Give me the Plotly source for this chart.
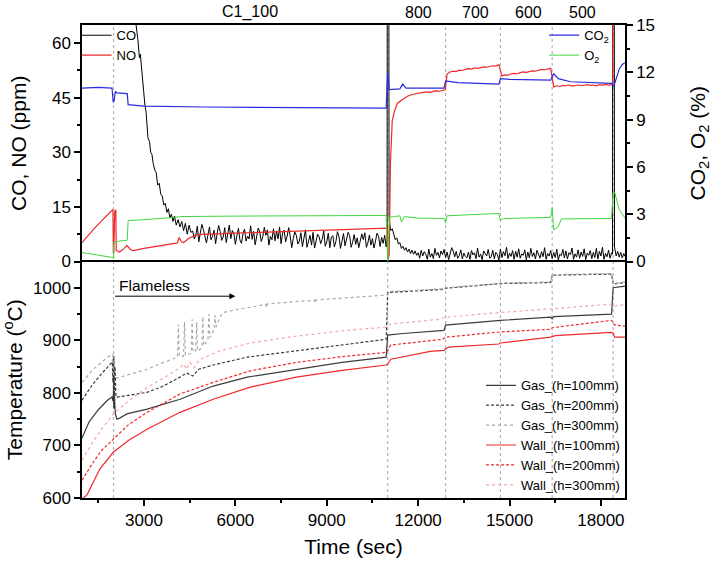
import plotly.graph_objects as go

# ---------------- data ----------------
# condition change times (s) and top labels
change_t = [2000, 11000, 12900, 14700, 16400, 18400]
cond_labels = ["C1_100", "800", "700", "600", "500"]
cond_t = [6490, 12010, 13890, 15630, 17410]
x_ticks = [3000, 6000, 9000, 12000, 15000, 18000]

# ---- CO (ppm) ----
co_head_t = [965, 2000, 2600, 2700, 2740, 2800, 2850, 2880, 2930, 2960, 3000, 3030, 3070, 3100,
             3130, 3180, 3220, 3260, 3300, 3360, 3400, 3450, 3500, 3550, 3600, 3650, 3700, 3750,
             3800, 3850, 3900, 3950, 4000, 4060, 4120, 4180, 4240, 4300, 4360, 4420, 4480, 4540]
co_head_v = [150, 150, 110, 75, 65, 61, 56, 57, 52, 50, 46, 43, 41, 37,
             34, 33, 30, 29.5, 27, 25, 24.5, 21, 21.5, 18.5, 18, 15.5, 16, 13.5,
             14.5, 12, 13, 11, 12.5, 10, 11.5, 9.5, 11, 8.5, 10.5, 7.5, 10, 8]
co_noise1_start, co_noise1_step = 4600, 50
co_noise1_v = [8.4, 6.2, 7.1, 9.7, 5.4, 7.9, 10.2, 8.8, 6.5, 5.1, 7.3, 9.5, 6.0, 6.9, 8.6, 4.9,
               7.6, 9.9, 8.3, 5.8, 6.7, 9.3, 5.2, 7.4, 10.0, 6.3, 8.5, 7.7, 4.7, 7.1, 9.1, 5.9,
               5.0, 7.7, 8.9, 5.6, 7.0, 6.2, 9.8, 6.1, 8.3, 4.6, 7.5, 9.2, 8.1, 5.5, 6.8, 9.4,
               7.2, 8.7, 4.5, 6.9, 6.0, 9.0, 5.7, 8.4, 6.2, 9.5, 4.9, 7.8, 8.6, 5.4, 7.0, 9.3,
               7.0, 3.8, 6.3, 8.1, 7.2, 4.8, 5.6, 7.9, 4.1, 6.6, 8.7, 3.9, 5.9, 7.2, 4.5, 8.0,
               3.7, 5.7, 7.5, 6.8, 4.9, 6.1, 8.4, 4.2, 5.4, 7.8, 3.8, 6.7, 7.1, 4.0, 5.5, 8.2,
               6.9, 3.6, 5.8, 7.7, 4.3, 6.2, 8.0, 7.1, 3.9, 5.3, 7.4, 4.7, 6.5, 3.8, 5.9, 7.6,
               6.0, 7.9, 3.9, 5.1, 7.3, 4.5, 6.3, 3.7, 5.6, 7.8, 6.9, 4.1, 6.6, 5.0, 7.2, 4.0]
co_mid_t = [10980, 10995, 11025, 11045, 11080, 11100, 11150, 11200, 11250, 11300, 11350, 11400,
            11450, 11500, 11550, 11600, 11650, 11700, 11750, 11800, 11850, 11900, 11950]
co_mid_v = [6.1, 200, 200, 12, 9.5, 8.5, 9, 7.2, 6, 6.5, 4.8, 5.2,
            3.6, 4.2, 3.1, 3.8, 2.6, 3.4, 2.2, 3.1, 2.0, 2.9, 1.7]
co_noise2_start, co_noise2_step = 12000, 50
co_noise2_v = [2.4, 0.9, 3.1, 1.5, 2.7, 2.0, 0.6, 3.4, 1.2, 2.2, 0.8, 3.6, 1.7, 2.5, 1.0, 2.9,
               1.9, 3.3, 1.1, 2.6, 0.5, 2.1, 3.8, 2.9, 1.3, 2.8, 0.9, 1.6, 3.2, 0.7, 2.3, 1.4,
               1.0, 2.6, 0.6, 3.0, 1.8, 2.4, 0.8, 3.7, 1.2, 2.0, 0.5, 2.9, 2.2, 1.5, 3.3, 0.9,
               1.3, 3.1, 0.7, 2.5, 1.9, 0.4, 3.4, 1.1, 2.7, 1.6, 3.9, 0.8, 2.3, 1.4, 3.0, 0.6,
               2.8, 1.2, 3.5, 0.9, 2.1, 1.7, 3.2, 0.5, 2.6, 1.0, 3.6, 1.4, 2.4, 0.7, 3.1, 1.8,
               0.9, 2.7, 1.3, 3.8, 0.6, 2.2, 1.5, 3.0, 0.8, 2.5, 1.1, 3.4, 0.4, 2.0, 1.6, 3.3,
               1.0, 2.9, 0.7, 2.4, 1.9, 3.7, 0.6, 2.1, 1.2, 3.2, 0.9, 2.6, 1.4, 3.5, 0.5, 2.3,
               1.7, 3.0, 0.8, 2.5, 1.1, 3.6, 0.7, 2.8, 1.5, 3.9, 0.6, 2.2, 1.3, 3.1, 0.9, 2.4]
co_tail_t = [18380, 18395, 18425, 18445, 18470, 18500, 18550, 18600, 18650, 18700, 18750, 18790]
co_tail_v = [2.0, 200, 200, 4, 3, 1.5, 2.8, 1.2, 2.5, 1.0, 2.2, 1.4]

# ---- NO (ppm) ----
no_head_t = [965, 1200, 1400, 1600, 1800, 1980, 1995, 2010, 2040, 2075, 2090, 2200, 2350, 2440,
             2550, 2640, 3000, 3500, 4000, 4100, 4150, 4230, 4300, 4500, 4740, 5000, 5500, 6000,
             6800, 8000, 9500, 10860, 10980, 11010, 11050, 11090, 11150, 11230, 11320, 11500,
             11650, 11800, 11950, 12100, 12250, 12400, 12550, 12700, 12850, 12890]
no_head_v = [5.2, 7.6, 9.4, 11.1, 12.8, 14.3, 2.2, 2.5, 13.8, 14.2, 3.0, 2.6, 3.6, 4.4,
             3.3, 3.0, 3.6, 4.2, 4.8, 5.1, 6.6, 5.4, 5.2, 6.5, 7.4, 7.5, 7.7, 7.8,
             8.0, 8.3, 8.7, 9.1, 9.2, 0.5, 2.0, 27, 38.8, 41.5, 43.5, 44.6,
             45.4, 45.9, 46.2, 46.3, 46.6, 46.5, 46.9, 46.8, 47.1, 47.2]
no_seg_step = 100
no_seg700_start = 12950
no_seg700_v = [51.5, 52.1, 52.3, 52.2, 52.6, 52.5, 52.8, 53.0, 52.9, 53.2, 53.1, 53.3, 53.5,
               53.4, 53.7, 53.8, 53.7, 54.1]
no_seg600_start = 14750
no_seg600_v = [51.0, 51.3, 51.2, 51.6, 51.7, 51.6, 51.9, 52.1, 52.0, 52.3, 52.4, 52.3, 52.6,
               52.8, 52.7, 53.0, 53.1]
no_seg500_start = 16450
no_seg500_v = [48.0, 48.3, 48.1, 48.4, 48.3, 48.5, 48.2, 48.4, 48.5, 48.3, 48.4, 48.6, 48.4,
               48.5, 48.3, 48.6, 48.5, 48.7, 48.5, 48.6]
no_tail_t = [18390, 18400, 18790]
no_tail_v = [48.6, 100, 100]

# ---- CO2 (%) ----
co2_t = [965, 1500, 1950, 1990, 2020, 2060, 2100, 2450, 2480, 3000, 5000, 8000, 10950, 11000,
         11050, 11400, 11490, 11600, 12850, 12900, 13300, 14650, 14700, 15000, 16350, 16450,
         16600, 17000, 18350, 18420, 18500, 18600, 18700, 18790]
co2_v = [11.0, 11.05, 11.0, 10.1, 10.2, 10.8, 10.7, 10.65, 9.95, 9.85, 9.8, 9.75, 9.73, 12.0,
         10.9, 10.95, 11.25, 11.0, 11.0, 11.45, 11.35, 11.25, 11.6, 11.55, 11.5, 11.9,
         11.6, 11.4, 11.3, 11.1, 11.6, 12.2, 12.5, 12.6]

# ---- O2 (%) ----
o2_t = [965, 1500, 1980, 2000, 2010, 2200, 2450, 2480, 3000, 4000, 4200, 6000, 9000, 10950,
        11000, 11050, 11400, 11450, 11550, 12000, 12850, 12900, 12950, 14650, 14700, 14800,
        16350, 16400, 16450, 16600, 16700, 18350, 18400, 18450, 18600, 18790]
o2_v = [0.57, 0.42, 0.25, 0.2, 1.2, 1.3, 1.35, 2.6, 2.65, 2.8, 2.85, 2.88, 2.92, 2.92,
        0.0, 2.8, 2.9, 2.5, 2.85, 2.75, 2.73, 2.45, 2.9, 3.05, 2.6, 2.72,
        2.8, 3.4, 2.0, 2.2, 2.7, 2.73, 4.4, 4.4, 3.3, 2.75]

# ---- Temperatures (deg C) ----
gas100_t = [965, 1200, 1500, 1800, 1950, 1980, 2000, 2010, 2030, 2060, 2110, 2200, 2440, 3100,
            4185, 5270, 6390, 8000, 9500, 10950, 11000, 11500, 12850, 12900, 14650, 14700,
            16350, 16400, 16450, 18350, 18400, 18790]
gas100_v = [714, 745, 768, 786, 792, 785, 800, 770, 795, 760, 750, 752, 760, 769,
            788, 813, 830, 845, 858, 868, 910, 913, 919, 929, 938, 938,
            944, 941, 945, 950, 1000, 1003]

gas200_t = [965, 1300, 1600, 1900, 1960, 1980, 1990, 2000, 2010, 2030, 2050, 2080, 2110, 3100,
            3600, 4185, 4400, 4600, 4800, 5270, 6390, 8000, 9500, 10950, 11000, 12850, 12900,
            14650, 14700, 16350, 16400, 18350, 18400, 18790]
gas200_v = [786, 815, 836, 856, 859, 820, 865, 780, 870, 790, 850, 792, 792, 801,
            812, 830, 838, 832, 845, 853, 868, 880, 891, 902, 991, 997, 999,
            1007, 1008, 1010, 1024, 1026, 1007, 1010]

gas300_t = [965, 1300, 1600, 1900, 1980, 2000, 2100, 2500, 3100, 3600, 4000, 4100, 4130, 4160,
            4300, 4330, 4360, 4550, 4580, 4610, 4700, 4730, 4760, 4900, 4930, 4960, 5100, 5130,
            5160, 5300, 5330, 5360, 5500, 5600, 6000, 6800, 7000, 7020, 7040, 8000, 8600, 8620,
            8640, 10950, 11000, 11100, 12850, 12900, 14650, 14700, 16350, 16400, 18350, 18400,
            18790]
gas300_v = [820, 843, 858, 872, 873, 835, 828, 835, 845, 857, 866, 868, 930, 870,
            870, 935, 872, 875, 940, 878, 880, 935, 880, 885, 945, 890, 900, 950,
            905, 920, 948, 925, 945, 953, 958, 967, 968, 962, 969, 974, 976, 971,
            977, 986, 989, 993, 998, 1000, 1008, 1009, 1011, 1025, 1027, 1008,
            1011]

wall100_t = [965, 1130, 1550, 1990, 2500, 3100, 4185, 5270, 6490, 8000, 9500, 10950, 11000,
             11100, 12400, 12850, 12900, 13000, 14650, 14700, 16350, 16400, 16500, 18350,
             18400, 18450, 18790]
wall100_v = [598, 606, 655, 687, 710, 731, 763, 788, 811, 830, 843, 853, 855,
             864, 879, 881, 884, 887, 893, 895, 906, 907, 909, 915,
             914, 906, 906]

wall200_t = [965, 1300, 1600, 1990, 2500, 3100, 4185, 5270, 6490, 8000, 9500, 10950, 11000,
             11100, 12800, 12900, 14650, 14700, 16350, 16400, 18350, 18450, 18790]
wall200_v = [634, 665, 690, 712, 740, 763, 798, 820, 842, 858, 869, 877, 880,
             891, 902, 906, 915, 916, 921, 924, 938, 929, 927]

wall300_t = [965, 1300, 1600, 2000, 2200, 2500, 3100, 3700, 4185, 4300, 4400, 4500, 4650,
             4800, 5000, 5500, 6490, 8000, 9500, 10950, 11100, 12700, 12900, 14700, 16400,
             18350, 18450, 18790]
wall300_v = [672, 705, 730, 761, 770, 785, 810, 830, 848, 855, 845, 858, 848,
             862, 868, 880, 895, 908, 918, 925, 931, 940, 944, 953, 960,
             969, 965, 968]

# ---------------- assemble series ----------------
def grid(start, step, vals):
    return [start + i * step for i in range(len(vals))]

co_t = (co_head_t + grid(co_noise1_start, co_noise1_step, co_noise1_v) + co_mid_t
        + grid(co_noise2_start, co_noise2_step, co_noise2_v) + co_tail_t)
co_v = co_head_v + co_noise1_v + co_mid_v + co_noise2_v + co_tail_v
no_t = (no_head_t + grid(no_seg700_start, no_seg_step, no_seg700_v)
        + grid(no_seg600_start, no_seg_step, no_seg600_v)
        + grid(no_seg500_start, no_seg_step, no_seg500_v) + no_tail_t)
no_v = no_head_v + no_seg700_v + no_seg600_v + no_seg500_v + no_tail_v

for a, b in [(co_t, co_v), (no_t, no_v), (co2_t, co2_v), (o2_t, o2_v), (gas100_t, gas100_v),
             (gas200_t, gas200_v), (gas300_t, gas300_v), (wall100_t, wall100_v),
             (wall200_t, wall200_v), (wall300_t, wall300_v), (co_head_t, co_head_v),
             (co_mid_t, co_mid_v), (no_head_t, no_head_v), (co_tail_t, co_tail_v)]:
    assert len(a) == len(b), (len(a), len(b))

FONT = "Arial, Liberation Sans, sans-serif"
RED = "#ee2a2a"
PINK = "#f4a6a6"
DARK = "#3c3c3c"
LIGHT = "#a8a8a8"

fig = go.Figure()
# top panel
fig.add_trace(go.Scatter(x=co_t, y=co_v, xaxis="x2", yaxis="y", mode="lines", name="CO",
                         line=dict(color="#000000", width=1), legend="legend"))
fig.add_trace(go.Scatter(x=no_t, y=no_v, xaxis="x2", yaxis="y", mode="lines", name="NO",
                         line=dict(color=RED, width=1.2), legend="legend"))
fig.add_trace(go.Scatter(x=co2_t, y=co2_v, xaxis="x2", yaxis="y2", mode="lines",
                         name="CO<sub>2</sub>", line=dict(color="#2b2be0", width=1.2),
                         legend="legend2"))
fig.add_trace(go.Scatter(x=o2_t, y=o2_v, xaxis="x2", yaxis="y2", mode="lines",
                         name="O<sub>2</sub>", line=dict(color="#3fd83f", width=1),
                         legend="legend2"))
# bottom panel
temps = [
    ("Gas_(h=100mm)", gas100_t, gas100_v, DARK, "solid"),
    ("Gas_(h=200mm)", gas200_t, gas200_v, DARK, "3px,2px"),
    ("Gas_(h=300mm)", gas300_t, gas300_v, LIGHT, "dot"),
    ("Wall_(h=100mm)", wall100_t, wall100_v, RED, "solid"),
    ("Wall_(h=200mm)", wall200_t, wall200_v, RED, "3px,2px"),
    ("Wall_(h=300mm)", wall300_t, wall300_v, PINK, "dot"),
]
for name, t, v, c, d in temps:
    fig.add_trace(go.Scatter(x=t, y=v, xaxis="x", yaxis="y3", mode="lines", name=name,
                             line=dict(color=c, width=1.2, dash=d), legend="legend3"))

# vertical dotted condition lines
for t in change_t:
    fig.add_shape(type="line", xref="x", yref="paper", x0=t, x1=t, y0=0, y1=1,
                  line=dict(color="#b5b5b5", width=1.2, dash="dot"), layer="below")

# top condition labels
for lab, t in zip(cond_labels, cond_t):
    fig.add_annotation(x=t, y=1.027, xref="x", yref="paper", text=lab, showarrow=False,
                       font=dict(size=16, color="black"), xanchor="center", yanchor="middle")

# Flameless arrow + label
fig.add_annotation(x=6000, y=984, ax=2000, ay=984, xref="x", yref="y3", axref="x", ayref="y3",
                   text="", showarrow=True, arrowhead=2, arrowsize=1.2, arrowwidth=1,
                   arrowcolor="black")
fig.add_annotation(x=2130, y=1005, xref="x", yref="y3", text="Flameless", showarrow=False,
                   xanchor="left", yanchor="middle", font=dict(size=15.5, color="black"))

axis_common = dict(showline=True, linecolor="black", linewidth=1.5, showgrid=False,
                   zeroline=False, ticks="outside", ticklen=6, tickwidth=1.5, tickcolor="black",
                   tickfont=dict(size=17, color="black"), automargin=False)

fig.update_layout(
    width=713, height=567,
    margin=dict(l=82, r=88, t=25, b=69),
    paper_bgcolor="white", plot_bgcolor="white",
    font=dict(family=FONT, color="black"),
    showlegend=True,
    xaxis=dict(axis_common, domain=[0, 1], anchor="y3", range=[965, 18790],
               tickmode="array", tickvals=x_ticks, ticktext=[str(v) for v in x_ticks],
               mirror=True,
               minor=dict(dtick=1500, tick0=0, ticks="outside", ticklen=3, tickwidth=1.5,
                          tickcolor="black"),
               title=dict(text="Time (sec)", font=dict(size=21), standoff=10)),
    xaxis2=dict(domain=[0, 1], anchor="y", matches="x", showticklabels=False, ticks="",
                side="top", showline=True, linecolor="black", linewidth=1.5, mirror=False,
                showgrid=False, zeroline=False, automargin=False),
    yaxis=dict(axis_common, domain=[0.5, 1], anchor="x2", range=[0, 65], tick0=0, dtick=15,
               minor=dict(dtick=7.5, tick0=0, ticks="outside", ticklen=3, tickwidth=1.5,
                          tickcolor="black"),
               title=dict(text="CO, NO (ppm)", font=dict(size=21), standoff=20)),
    yaxis2=dict(axis_common, overlaying="y", anchor="x2", side="right", range=[0, 15], tick0=0,
                dtick=3,
                minor=dict(dtick=1.5, tick0=0, ticks="outside", ticklen=3, tickwidth=1.5,
                           tickcolor="black"),
                title=dict(text="CO<sub>2</sub>, O<sub>2</sub> (%)", font=dict(size=21),
                           standoff=36)),
    yaxis3=dict(axis_common, domain=[0, 0.5], anchor="x", range=[600, 1050], tick0=600,
                dtick=100, mirror=True,
                minor=dict(dtick=50, tick0=600, ticks="outside", ticklen=3, tickwidth=1.5,
                           tickcolor="black"),
                title=dict(text="Temperature (<sup>o</sup>C)", font=dict(size=21), standoff=8)),
    legend=dict(x=-0.01, y=1.01, xanchor="left", yanchor="top", bgcolor="rgba(0,0,0,0)",
                font=dict(size=13), borderwidth=0, itemwidth=30, tracegroupgap=0),
    legend2=dict(x=0.98, y=1.01, xanchor="right", yanchor="top", bgcolor="rgba(0,0,0,0)",
                 font=dict(size=13), borderwidth=0, itemwidth=30, tracegroupgap=0),
    legend3=dict(x=1.0, y=-0.005, xanchor="right", yanchor="bottom", bgcolor="rgba(0,0,0,0)",
                 font=dict(size=13), borderwidth=0, itemwidth=30, tracegroupgap=0),
)

fig.write_html("out.html", config={"displayModeBar": False},
               post_script="document.body.style.margin='0px';")
